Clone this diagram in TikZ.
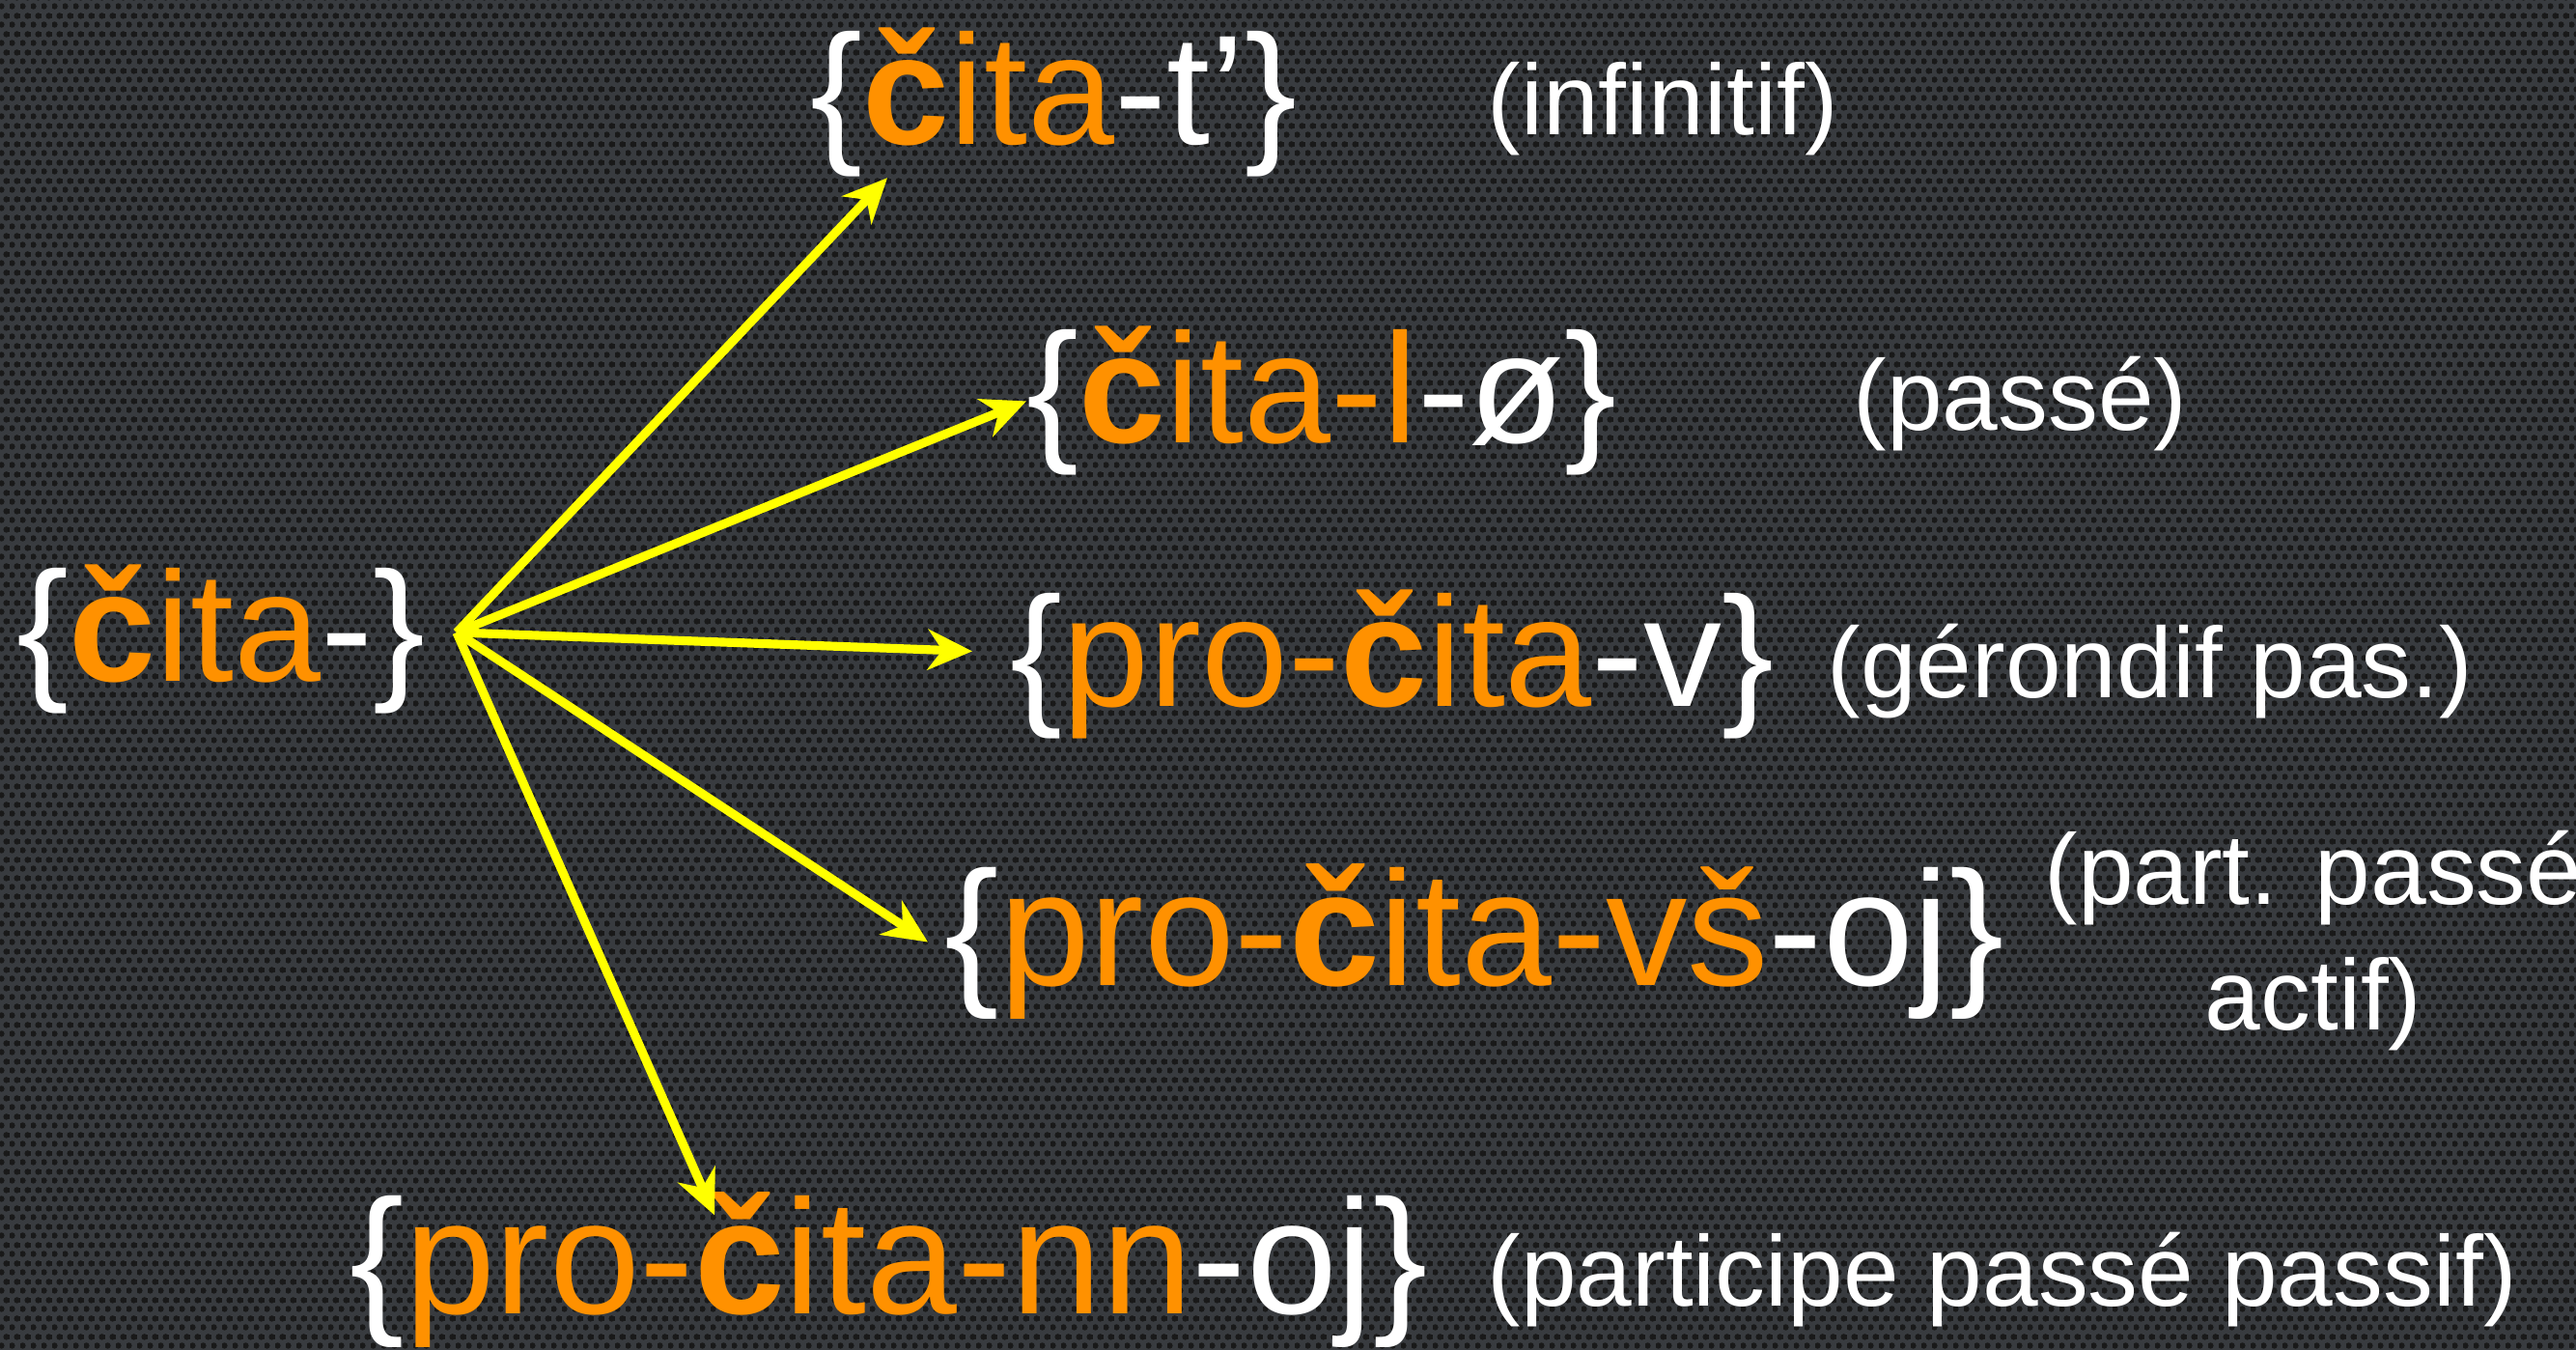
\documentclass[tikz,border=0pt]{standalone}
\usepackage{fontspec}
\setmainfont{Liberation Sans}
\usetikzlibrary{arrows.meta,patterns.meta}
\definecolor{bgcol}{RGB}{56,59,63}
\definecolor{stemorange}{RGB}{255,145,0}
\definecolor{arrowyellow}{RGB}{255,255,0}
\newcommand{\ostem}[1]{\textcolor{stemorange}{#1}}
\newcommand{\chc}{{\bfseries č}}
\tikzdeclarepattern{
  name=perfor,
  type=colored,
  bottom left={(0,0)},
  top right={(0.11,0.19)},
  tile size={(0.11,0.19)},
  code={
    \fill[black!90] (0.0275,0.0475) circle (0.034);
    \fill[black!90] (0.0825,0.1425) circle (0.034);
  }
}
\begin{document}
\begin{tikzpicture}[
  form/.style={font=\fontsize{46}{55}\selectfont, text=white, inner sep=0pt, anchor=base west},
  bigform/.style={form, font=\fontsize{48}{58}\selectfont},
  gloss/.style={font=\fontsize{29.5}{36}\selectfont, text=white, inner sep=0pt, anchor=base west},
  yarrow/.style={line width=2.6pt, arrowyellow, -{Stealth[length=4.6mm,width=4.2mm]}}
]
\useasboundingbox (0,0) rectangle (26.68,13.98);
\clip (0,0) rectangle (26.68,13.98);
\fill[bgcol] (0,0) rectangle (26.68,13.98);
\fill[pattern=perfor] (0,0) rectangle (26.68,13.98);

\node[form] (root) at (0.17,6.92) {\{\ostem{\chc ita}-\}};

\node[form] (inf) at (8.39,12.48) {\{\ostem{\chc ita}-t’\}};
\node[gloss] (infg) at (15.40,12.58) {(infinitif)};

\node[form] (past) at (10.63,9.39) {\{\ostem{\chc ita-l}-ø\}};
\node[gloss] (pastg) at (19.19,9.52) {(passé)};

\node[form] (ger) at (10.46,6.66) {\{\ostem{pro-\chc ita}-v\}};
\node[gloss] (gerg) at (18.92,6.75) {(gérondif pas.)};

\node[bigform] (pact) at (9.78,3.77) {\{\ostem{pro-\chc ita-vš}-oj\}};
\node[gloss, anchor=north, align=center, font=\fontsize{29.5}{37}\selectfont] (pactg) at (23.96,5.39) {(part. passé\\actif)};

\node[bigform] (ppp) at (3.62,0.37) {\{\ostem{pro-\chc ita-nn}-oj\}};
\node[gloss] (pppg) at (15.40,0.45) {(participe passé passif)};

\coordinate (hub) at (4.73,7.43);
\draw[yarrow] (hub) -- ([shift={(0.8,0)}]inf.south west);
\draw[yarrow] (hub) -- (past.west);
\draw[yarrow] (hub) -- ([shift={(-0.39,0.14)}]ger.west);
\draw[yarrow] (hub) -- ([xshift=-1.7mm]pact.west);
\draw[yarrow] (hub) -- ([shift={(3.78,-0.24)}]ppp.north west);

\end{tikzpicture}
\end{document}
